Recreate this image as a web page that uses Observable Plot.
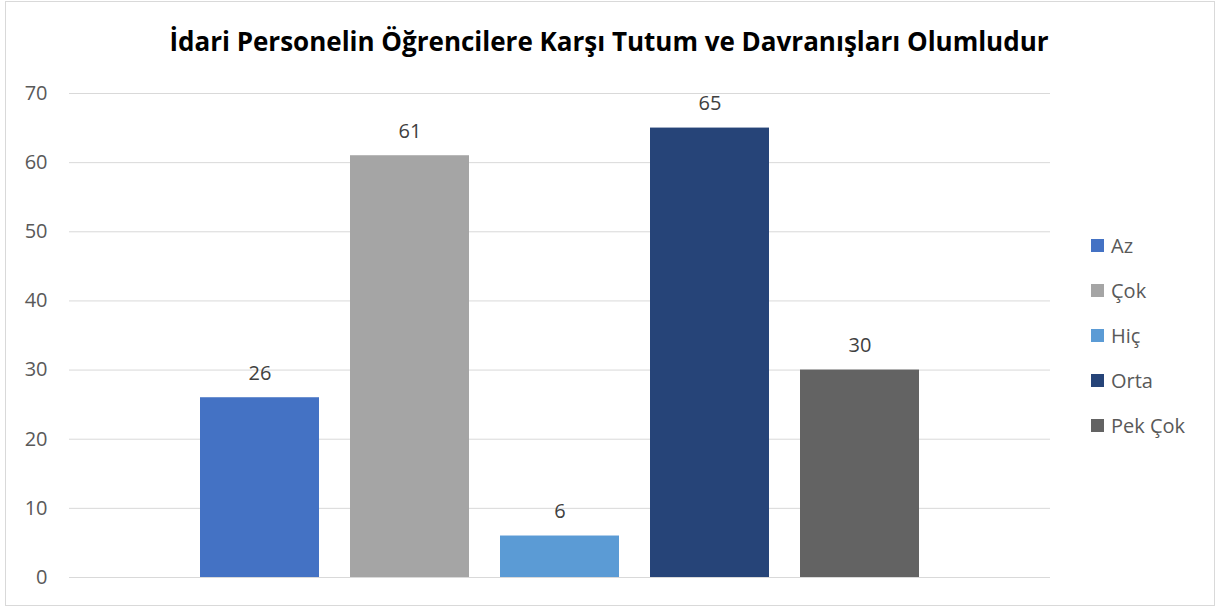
<!DOCTYPE html>
<html>
<head>
<meta charset="utf-8">
<script src="https://cdn.jsdelivr.net/npm/d3@7"></script>
<script src="https://cdn.jsdelivr.net/npm/@observablehq/plot@0.6"></script>
<style>
  html, body { margin: 0; padding: 0; background: #fff; }
  #wrap { position: relative; width: 1215px; height: 608px; font-family: "Open Sans", "Noto Sans", sans-serif; }
  #frame { position: absolute; left: 5px; top: 1px; width: 1210px; height: 605px; border: 1px solid #d9d9d9; box-sizing: border-box; }
  #title { position: absolute; left: 0; top: 28px; width: 1218px; text-align: center; font-weight: bold; font-size: 26px; line-height: 26px; color: #000; white-space: nowrap; }
  #chart { position: absolute; left: 0; top: 0; }
  #legend { position: absolute; left: 1091px; top: 0; }
  .li { position: absolute; left: 0; display: flex; align-items: center; white-space: nowrap; font-size: 20px; color: #595959; }
  .sw { width: 13px; height: 13px; margin-right: 7px; flex: none; }
</style>
</head>
<body>
<div id="wrap">
  <div id="frame"></div>
  <div id="chart"></div>
  <div id="title">İdari Personelin Öğrencilere Karşı Tutum ve Davranışları Olumludur</div>
  <div id="legend"></div>
</div>
<script>
const categories = ["Az", "Çok", "Hiç", "Orta", "Pek Çok"];
const values = [26, 61, 6, 65, 30];
const colors = ["#4472c4", "#a5a5a5", "#5b9bd5", "#264478", "#636363"];
const yTicks = [0, 10, 20, 30, 40, 50, 60, 70];

const data = categories.map((c, i) => ({category: c, value: values[i]}));

const chart = Plot.plot({
  width: 1215,
  height: 608,
  marginLeft: 69,
  marginRight: 165,
  marginTop: 93,
  marginBottom: 31,
  style: {fontFamily: "'Open Sans', 'Noto Sans', sans-serif", background: "transparent"},
  x: {type: "band", domain: categories, paddingInner: 0.209, paddingOuter: 0.867, axis: null},
  y: {domain: [0, 70], ticks: yTicks, axis: null},
  color: {domain: categories, range: colors},
  marks: [
    Plot.gridY(yTicks, {stroke: "#d9d9d9", strokeOpacity: 1, strokeWidth: 1}),
    Plot.axisY(yTicks, {tickSize: 0, tickPadding: 22, fontSize: 20, label: null, fill: "#595959"}),
    Plot.barY(data, {x: "category", y: "value", fill: "category"}),
    Plot.text(data, {x: "category", y: "value", text: d => String(d.value), dy: -24, fontSize: 20, fill: "#404040"})
  ]
});
document.getElementById("chart").appendChild(chart);

const legend = document.getElementById("legend");
const rowCenters = [245, 290, 335, 380, 425];
categories.forEach((c, i) => {
  const row = document.createElement("div");
  row.className = "li";
  row.style.top = (rowCenters[i] - 13) + "px";
  row.style.height = "26px";
  const sw = document.createElement("span");
  sw.className = "sw";
  sw.style.background = colors[i];
  const lab = document.createElement("span");
  lab.textContent = c;
  row.appendChild(sw);
  row.appendChild(lab);
  legend.appendChild(row);
});
</script>
</body>
</html>
